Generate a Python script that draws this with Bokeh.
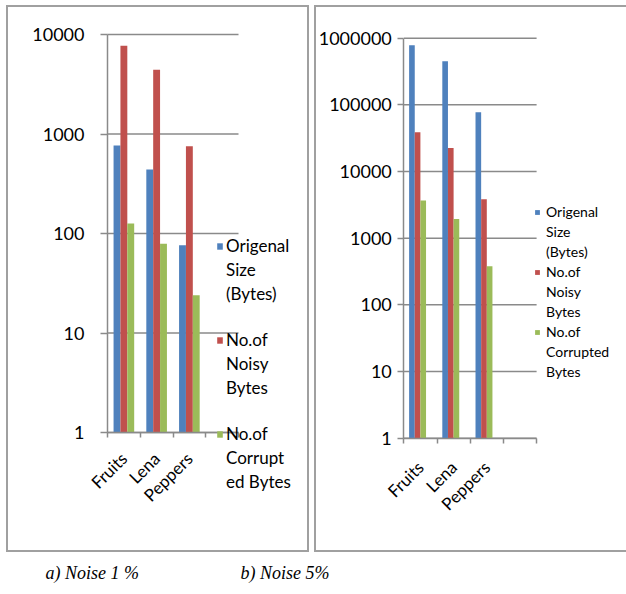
from math import pi
from bokeh.plotting import figure
from bokeh.models import (Range1d, FixedTicker, Legend, LegendItem, Label,
                          NumeralTickFormatter, Spacer)
from bokeh.layouts import row, column
from bokeh.embed import file_html
from bokeh.resources import INLINE

# ---------------- data ----------------
categories = ["Fruits", "Lena", "Peppers"]
names_a = [["Origenal", "Size", "(Bytes)"], ["No.of", "Noisy", "Bytes"],
           ["No.of", "Corrupt", "ed Bytes"]]
names_b = [["Origenal", "Size", "(Bytes)"], ["No.of", "Noisy", "Bytes"],
           ["No.of", "Corrupted", "Bytes"]]
colors = ["#4F81BD", "#C0504D", "#9BBB59"]

a_original = [768, 440, 76]
a_noisy = [7700, 4420, 754]
a_corrupted = [126, 79, 24]

b_original = [786432, 449000, 77200]
b_noisy = [38700, 22600, 3830]
b_corrupted = [3660, 1946, 379]

a_yticks = [1, 10, 100, 1000, 10000]
b_yticks = [1, 10, 100, 1000, 10000, 100000, 1000000]
captions = ["a) Noise 1 %", "b) Noise 5%"]

GRAY = "#8a8a8a"
FONT = "Lato"
BORDER = "2px solid #a0a0a0"


def make_panel(series, names, yticks, w, h, geo, bar_w, group_center,
               tick_font, tick_out, tick_standoff, x_font, x_standoff, leg, styles):
    n_slots = len(categories) + 1
    # geo: x of category origin (px), px per category, y of value 1 from top (px), px per decade
    x0, slot, y1, dec = geo
    x_range = Range1d(-x0 / slot, (w - x0) / slot)
    y_range = Range1d(10 ** (-(h - y1) / dec), 10 ** (y1 / dec))
    p = figure(width=w, height=h, y_axis_type="log",
               x_range=x_range, y_range=y_range,
               output_backend="svg", toolbar_location=None,
               min_border=0, styles=styles)
    p.outline_line_color = None
    p.background_fill_color = "white"
    p.border_fill_color = "white"
    p.grid.grid_line_color = None

    # horizontal gridlines over the category area only
    p.segment(x0=[0] * len(yticks), x1=[n_slots] * len(yticks), y0=yticks, y1=yticks,
              line_color=GRAY, line_width=1.5)

    renderers = []
    for k, vals in enumerate(series):
        xs = [i + 0.5 + (k - group_center) * bar_w for i in range(len(categories))]
        r = p.vbar(x=xs, top=vals, bottom=yticks[0], width=bar_w,
                   fill_color=colors[k], line_color=None)
        renderers.append(r)
    blank = p.vbar(x=[], top=[], bottom=1, width=bar_w, fill_alpha=0, line_alpha=0)

    # y axis
    ya = p.yaxis[0]
    ya.fixed_location = 0
    ya.bounds = (yticks[0], yticks[-1])
    ya.ticker = FixedTicker(ticks=yticks, minor_ticks=[])
    ya.formatter = NumeralTickFormatter(format="0")
    ya.axis_line_color = GRAY
    ya.axis_line_width = 1.5
    ya.major_tick_line_color = GRAY
    ya.major_tick_line_width = 1.5
    ya.major_tick_out = tick_out
    ya.major_tick_in = 0
    ya.minor_tick_line_color = None
    ya.major_label_standoff = tick_standoff
    ya.major_label_text_font = FONT
    ya.major_label_text_font_size = tick_font
    ya.major_label_text_color = "black"

    # x axis: labels at category centres, ticks on category boundaries
    xa = p.xaxis[0]
    xa.fixed_location = yticks[0]
    xa.bounds = (0, n_slots)
    xa.ticker = FixedTicker(ticks=[i + 0.5 for i in range(len(categories))],
                            minor_ticks=list(range(n_slots + 1)))
    xa.major_label_overrides = {i + 0.5: c for i, c in enumerate(categories)}
    xa.major_tick_line_color = None
    xa.minor_tick_line_color = GRAY
    xa.minor_tick_line_width = 1.5
    xa.minor_tick_out = 5
    xa.minor_tick_in = 0
    xa.axis_line_color = GRAY
    xa.axis_line_width = 1.5
    xa.major_label_orientation = pi / 4
    xa.major_label_standoff = x_standoff
    xa.major_label_text_font = FONT
    xa.major_label_text_font_size = x_font
    xa.major_label_text_color = "black"

    items = []
    for k, lines in enumerate(names):
        if k > 0:
            for _ in range(leg["gap"]):
                items.append(LegendItem(label=" ", renderers=[blank]))
        for j, line in enumerate(lines):
            items.append(LegendItem(label=line,
                                    renderers=[renderers[k] if j == 0 else blank]))
    legend = Legend(items=items, location=leg["loc"],
                    glyph_width=leg["gw"], glyph_height=leg["gh"],
                    label_standoff=leg["standoff"], spacing=leg["spacing"],
                    padding=0, margin=0, border_line_color=None,
                    background_fill_alpha=0,
                    label_text_font=FONT, label_text_font_size=leg["font"],
                    label_text_color="black")
    p.add_layout(legend)
    return p


pa = make_panel([a_original, a_noisy, a_corrupted], names_a, a_yticks,
                303, 547, (99, 32.75, 425, 99.5), 0.21, 1.0,
                "18px", 7, 16, "17px", 17,
                dict(loc=(208, 62), gw=7, gh=8, standoff=3, spacing=3, font="17px", gap=2),
                {"border": BORDER})

pb = make_panel([b_original, b_noisy, b_corrupted], names_b, b_yticks,
                312, 547, (87.3, 33.2, 430.7, 66.67), 0.17, 1.5,
                "18px", 6, 6, "17px", 20,
                dict(loc=(218, 174), gw=6, gh=6, standoff=6, spacing=3, font="14px", gap=0),
                {"border-left": BORDER, "border-top": BORDER, "border-bottom": BORDER})

cap = figure(width=620, height=40, output_backend="svg", toolbar_location=None,
             x_range=Range1d(0, 620), y_range=Range1d(0, 40), min_border=0)
cap.axis.visible = False
cap.grid.grid_line_color = None
cap.outline_line_color = None
cap_x = [45, 240]
for cx, txt in zip(cap_x, captions):
    cap.add_layout(Label(x=cx, y=10, x_units="screen", y_units="screen", text=txt,
                         text_font="Liberation Serif", text_font_style="italic",
                         text_font_size="18px", text_color="black"))

layout = column(Spacer(height=5),
                row(Spacer(width=6), pa, Spacer(width=5), pb),
                cap)
open("out.html", "w").write(file_html(layout, INLINE))
